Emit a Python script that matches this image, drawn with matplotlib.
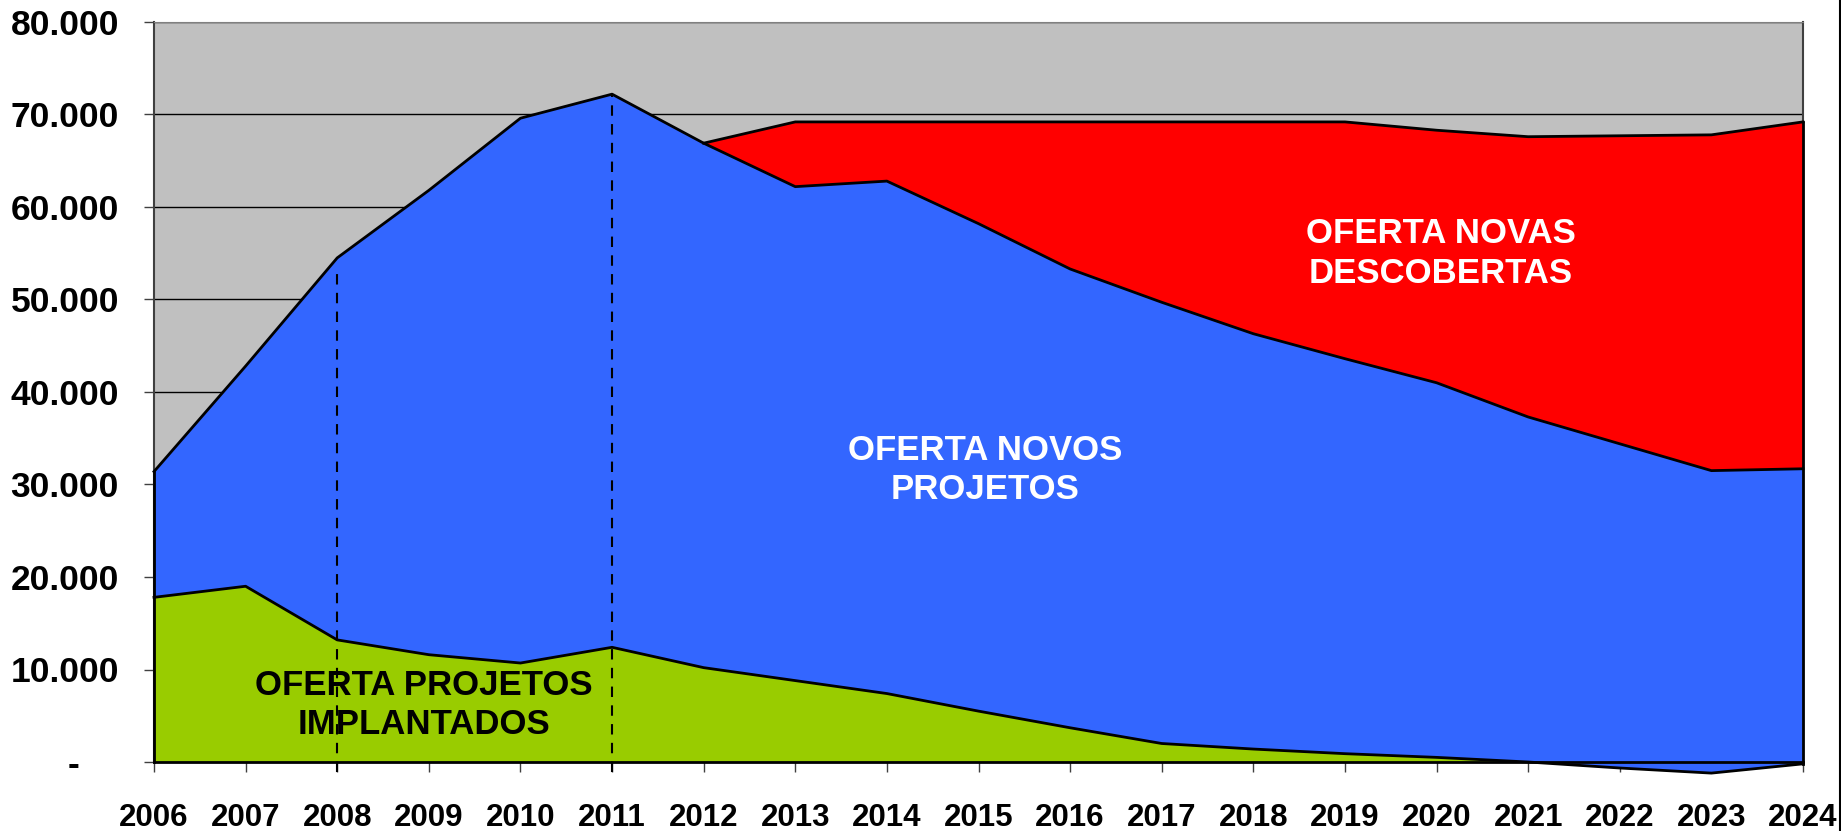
import numpy as np
import matplotlib.pyplot as plt
from matplotlib.lines import Line2D
from matplotlib.ticker import FuncFormatter

plt.rcParams['font.family'] = ['Liberation Sans', 'DejaVu Sans']
plt.rcParams['font.weight'] = 'bold'

# data
anos = list(range(2006, 2025))
implantados = [17800, 19000, 13200, 11600, 10700, 12400, 10200, 8800, 7400,
               5500, 3700, 2000, 1400, 900, 500, 0, -650, -1200, -200]
# top of the blue band (implantados + novos projetos)
topo_projetos = [31400, 42800, 54500, 61800, 69600, 72200, 66900, 62200, 62800,
                 58200, 53300, 49700, 46300, 43600, 41000, 37300, 34400, 31500, 31700]
# top of the red band (total)
topo_total = [31400, 42800, 54500, 61800, 69600, 72200, 66900, 69200, 69200,
              69200, 69200, 69200, 69200, 69200, 68300, 67600, 67700, 67800, 69200]
anos_marcados = [2008, 2011]
topo_marcados = [53000, 72200]

x = np.array(anos)
g = np.array(implantados)
b = np.array(topo_projetos)
t = np.array(topo_total)

fig = plt.figure(figsize=(18.41, 8.31), dpi=100)
ax = fig.add_axes([154 / 1841, 69 / 831, 1649 / 1841, 740 / 831])
ax.set_facecolor('#C0C0C0')

# stacked areas, drawn in order so blue covers the negative green part
ax.fill_between(x, 0, g, color='#99CC00', lw=0, clip_on=False, zorder=2)
ax.fill_between(x, g, b, color='#3366FF', lw=0, clip_on=False, zorder=3)
ax.fill_between(x, b, t, color='#FF0000', lw=0, clip_on=False, zorder=4)
ax.plot(x, g, color='black', lw=2, clip_on=False, zorder=5)
ax.plot(x, b, color='black', lw=2, clip_on=False, zorder=5)
ax.plot(x[6:], t[6:], color='black', lw=2, clip_on=False, zorder=5)
ax.plot([x[-1], x[-1]], [g[-1], t[-1]], color='black', lw=2, clip_on=False, zorder=5)
ax.plot([x[0], x[0]], [0, t[0]], color='black', lw=2, clip_on=False, zorder=5)

# dashed markers
for a, y in zip(anos_marcados, topo_marcados):
    ax.plot([a, a], [-1100, y], color='black', lw=1.5, ls=(0, (5, 4)),
            clip_on=False, zorder=6)

ax.set_xlim(2006, 2024)
ax.set_ylim(0, 80000)
ax.set_yticks(range(0, 80001, 10000))
ax.set_xticks(anos)
ax.yaxis.set_major_formatter(FuncFormatter(
    lambda v, p: '-    ' if v == 0 else f'{v:,.0f}'.replace(',', '.')))
ax.grid(axis='y', color='black', lw=1, zorder=1)
ax.set_axisbelow(True)

ax.tick_params(axis='y', labelsize=25.5, length=7.2, width=1, pad=18, color='#404040')
ax.tick_params(axis='x', labelsize=22.5, length=7.2, width=1, pad=22, color='#404040')
for lab in ax.get_xticklabels() + ax.get_yticklabels():
    lab.set_fontweight('bold')

for s in ['left', 'right']:
    ax.spines[s].set_color('#404040')
    ax.spines[s].set_linewidth(1.5)
ax.spines['top'].set_color('#808080')
ax.spines['bottom'].set_color('black')
ax.spines['bottom'].set_linewidth(2)
ax.spines['bottom'].set_zorder(7)

ax.text(2008.95, 6160, 'OFERTA PROJETOS\nIMPLANTADOS', ha='center', va='center',
        fontsize=25, fontweight='bold', color='black', zorder=8, linespacing=1.25)
ax.text(2015.07, 31570, 'OFERTA NOVOS\nPROJETOS', ha='center', va='center',
        fontsize=25, fontweight='bold', color='white', zorder=8, linespacing=1.25)
ax.text(2020.05, 54970, 'OFERTA NOVAS\nDESCOBERTAS', ha='center', va='center',
        fontsize=25, fontweight='bold', color='white', zorder=8, linespacing=1.25)

fig.add_artist(Line2D([1839.5 / 1841] * 2, [0, 1], color='black', lw=1.5))

fig.savefig('out.png', dpi=100)
